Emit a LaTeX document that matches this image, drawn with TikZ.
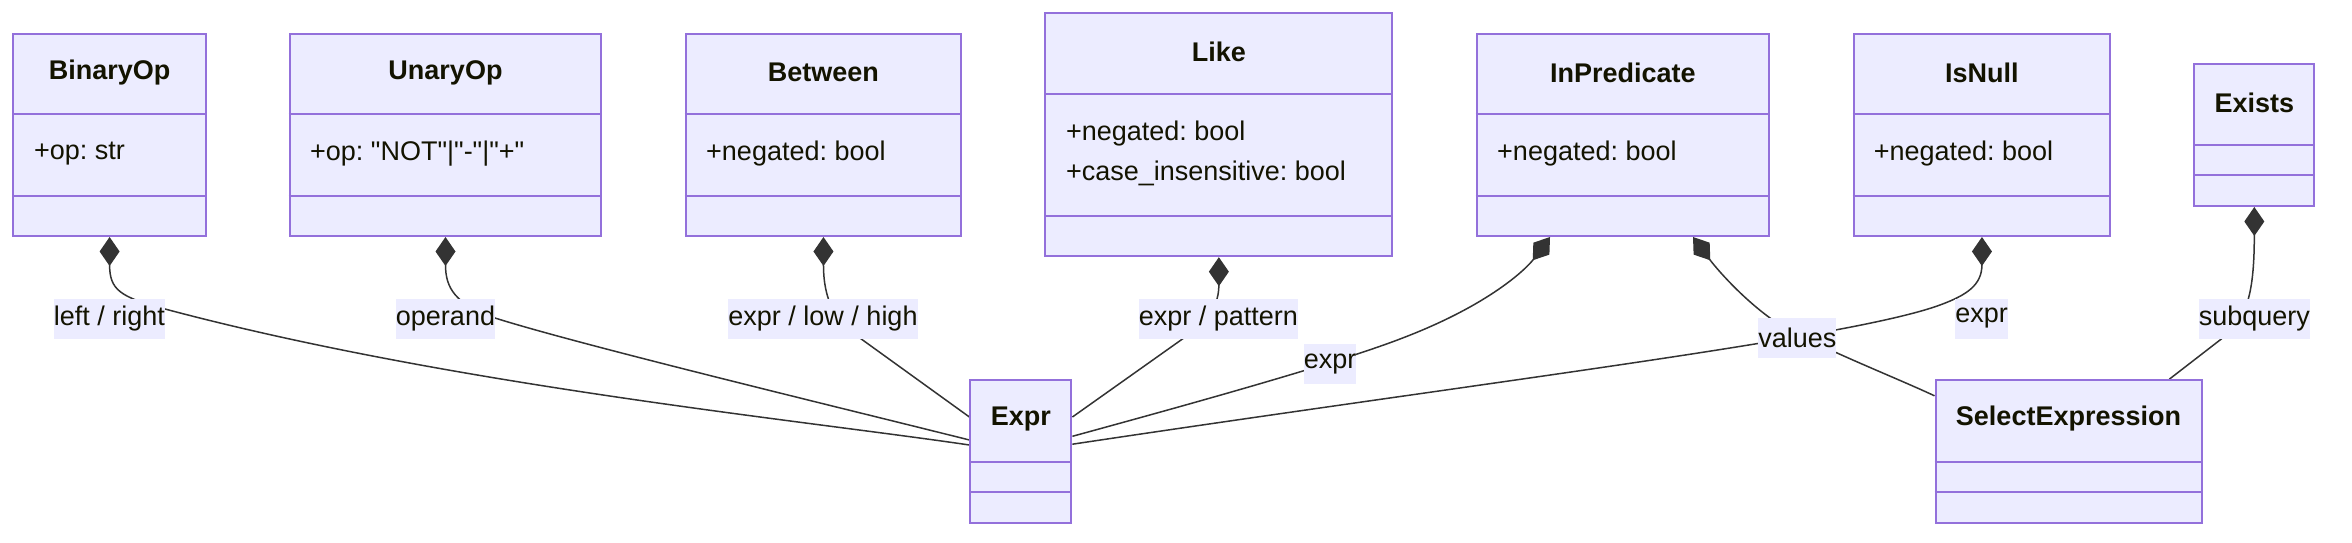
\documentclass[tikz,border=0pt]{standalone}
\usepackage{fontspec}
\setmainfont{Liberation Sans}[Ligatures=TeXOff]
\usetikzlibrary{arrows.meta}
\definecolor{clsfill}{HTML}{ECECFF}
\definecolor{clsline}{HTML}{9370DB}
\definecolor{edgec}{HTML}{333333}
\definecolor{txt}{HTML}{131300}
\pgfdeclarelayer{edges}
\pgfsetlayers{edges,main}
\frenchspacing
\tikzset{
  cls/.style={draw=clsline, fill=clsfill, line width=2pt, inner sep=0pt},
  divider/.style={draw=clsline, line width=2pt},
  ctitle/.style={font=\fontsize{27}{32}\selectfont\bfseries, text=txt, inner sep=0pt},
  cattr/.style={font=\fontsize{27}{32}\selectfont, text=txt, inner sep=0pt, anchor=west},
  elabel/.style={font=\fontsize{27}{32}\selectfont, text=txt, fill=clsfill, inner sep=0pt, minimum height=40pt},
  comp/.style={draw=edgec, line width=1.5pt, {Diamond[length=29pt,width=20pt,fill=edgec]}-},
}
% name, x1, y1, x2, y2, divider1, divider2, title, title y
\newcommand{\umlbox}[9]{%
  \node[cls, minimum width={#4-#2}, minimum height={#5-#3}] (#1) at ({(#2+#4)/2},{(#3+#5)/2}) {};
  \draw[divider] (#1.west |- 0,#6) -- (#1.east |- 0,#6);
  \draw[divider] (#1.west |- 0,#7) -- (#1.east |- 0,#7);
  \node[ctitle] (#1-t) at ({(#2+#4)/2},#9) {#8};
}
\begin{document}
\begin{tikzpicture}[x=1pt,y=-1pt]
\useasboundingbox (0,0) rectangle (2352,543);

% classes
\umlbox{binop}{13.4}{33.6}{205.8}{236}{114.3}{195.6}{BinaryOp}{72.7}
\node[cattr] (binop-a) at (34,154) {+op: str};
\umlbox{unop}{289.7}{33.6}{601.3}{236}{114.3}{195.6}{UnaryOp}{72.7}
\node[cattr] (unop-a) at (310,154) {+op: "NOT"|"-"|"+"};
\umlbox{betw}{685.7}{33.6}{961.2}{236}{114.3}{195.6}{Between}{72.7}
\node[cattr] (betw-a) at (706,154) {+negated: bool};
\umlbox{like}{1045.4}{13.2}{1392.3}{256.2}{93.8}{215.7}{Like}{52}
\node[cattr] (like-a) at (1065.8,133.3) {+negated: bool};
\node[cattr] (like-b) at (1065.8,173.1) {+case\_insensitive: bool};
\umlbox{inpred}{1476.5}{33.6}{1769.2}{236}{114.3}{195.6}{InPredicate}{72.7}
\node[cattr] (inpred-a) at (1497,154) {+negated: bool};
\umlbox{isnull}{1853.5}{33.6}{2110.4}{236}{114.3}{195.6}{IsNull}{72.7}
\node[cattr] (isnull-a) at (1873.6,154) {+negated: bool};
\umlbox{exists}{2194.2}{63.7}{2314.4}{206}{145}{174.9}{Exists}{102.8}
\umlbox{expr}{970.4}{380.2}{1071.4}{522.8}{461.6}{492}{Expr}{419}
\umlbox{selexpr}{1935.5}{380.2}{2201.5}{522.8}{461.6}{492}{SelectExpression}{419}

% edge labels
\node[elabel] (lr)  at (109.5,318.5) {left / right};
\node[elabel] (opd) at (445.5,318.5) {operand};
\node[elabel] (elh) at (823,318.5) {expr / low / high};
\node[elabel] (epa) at (1218.4,318.5) {expr / pattern};
\node[elabel] (ex1) at (1330,364) {expr};
\node[elabel] (val) at (1797.4,337.6) {values};
\node[elabel] (ex2) at (1981.7,318.5) {expr};
\node[elabel] (sqy) at (2254.3,318.5) {subquery};

% connector end points
\coordinate (exL1) at (expr.west |- 0,445);
\coordinate (exL2) at (expr.west |- 0,440);
\coordinate (exL3) at (expr.west |- 0,417);
\coordinate (exR1) at (expr.east |- 0,417);
\coordinate (exR2) at (expr.east |- 0,436.3);
\coordinate (exR3) at (expr.east |- 0,444.2);
\coordinate (selL) at (selexpr.west |- 0,395.8);
\coordinate (selT) at (selexpr.north -| 2169.3,0);
\coordinate (ip1) at (inpred.south -| 1550,0);
\coordinate (ip2) at (inpred.south -| 1693,0);

\begin{pgfonlayer}{edges}
\draw[comp] (binop.south) .. controls (109.6,290) and (120,297) .. (165,309)
  .. controls (450,385) and (800,420) .. (exL1);
\draw[comp] (unop.south) .. controls (445.5,288) and (455,304) .. (495,318)
  .. controls (580,345) and (850,410) .. (exL2);
\draw[comp] (betw.south) .. controls (823.5,300) and (835,322) .. (860.7,338.6) -- (exL3);
\draw[comp] (like.south) .. controls (1218.9,312) and (1200,325) .. (1183,338.6) -- (exR1);
\draw[comp] (ip1) .. controls (1527,268) and (1490,305) .. (1400,339)
  .. controls (1330,366) and (1150,415) .. (exR2);
\draw[comp] (ip2) .. controls (1716,268) and (1740,296) .. (1770,318)
  .. controls (1800,340) and (1890,375) .. (selL);
\draw[comp] (isnull.south) .. controls (1981.9,285) and (1967,295) .. (1940,305)
  .. controls (1850,338) and (1500,380) .. (exR3);
\draw[comp] (exists.south) .. controls (2254.3,300) and (2245,320) .. (2220.9,339.3) -- (selT);
\end{pgfonlayer}
\end{tikzpicture}
\end{document}
